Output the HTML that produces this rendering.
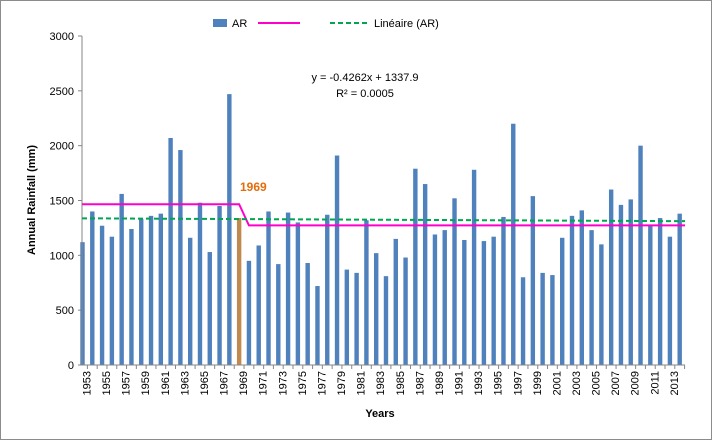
<!DOCTYPE html>
<html><head><meta charset="utf-8"><style>
body{margin:0;background:#fff}
svg{display:block;font-family:"Liberation Sans",sans-serif}
</style></head><body>
<svg id="c" width="712" height="440">
<rect x="0.5" y="0.5" width="711" height="439" fill="#fff" stroke="#8c8c8c"/>
<g id="g"></g>
</svg>
<script>
const years=[1953,1954,1955,1956,1957,1958,1959,1960,1961,1962,1963,1964,1965,1966,1967,1968,1969,1970,1971,1972,1973,1974,1975,1976,1977,1978,1979,1980,1981,1982,1983,1984,1985,1986,1987,1988,1989,1990,1991,1992,1993,1994,1995,1996,1997,1998,1999,2000,2001,2002,2003,2004,2005,2006,2007,2008,2009,2010,2011,2012,2013,2014];
const rainfall=[1120,1400,1270,1170,1560,1240,1330,1360,1380,2070,1960,1160,1480,1030,1450,2470,1340,950,1090,1400,920,1390,1300,930,720,1370,1910,870,840,1320,1020,810,1150,980,1790,1650,1190,1230,1520,1140,1780,1130,1170,1350,2200,800,1540,840,820,1160,1360,1410,1230,1100,1600,1460,1510,2000,1280,1340,1170,1380];
const yTicks=[0,500,1000,1500,2000,2500,3000];
const meanBefore=1466, meanAfter=1273, breakYear=1969;
const trendSlope=-0.4262, trendIntercept=1337.9;

const NS="http://www.w3.org/2000/svg", g=document.getElementById('g');
const X0=82,X1=685,Y0=365,Y1=36,C0=82.5,step=9.79;
const sx=i=>C0+step*i, sy=v=>Y0-(v/3000)*(Y0-Y1);
function mk(t,a,txt){const e=document.createElementNS(NS,t);for(const k in a)e.setAttribute(k,a[k]);if(txt!=null)e.textContent=txt;g.appendChild(e);return e;}

yTicks.forEach(v=>{
 const l=mk('line',{x1:X0-4,x2:X0,y1:sy(v),y2:sy(v),stroke:'#868686'});
 
 
 const t=mk('text',{x:X0-8,y:sy(v)+4,'text-anchor':'end','font-size':11},v);
 
 
});
years.forEach((yr,i)=>{
 const v=rainfall[i];
 const b=mk('rect',{x:sx(i)-2.2,y:sy(v),width:4.4,height:Y0-sy(v),fill:yr===breakYear?'#c0894f':'#4f81bd'});
 
 
 const tk=mk('line',{x1:sx(i)+step/2,x2:sx(i)+step/2,y1:Y0,y2:Y0+4,stroke:'#868686'});
 
 
 if(i%2===0){const cx=sx(i)+8,cy=Y0+6;
  const t=mk('text',{x:cx,y:cy,'text-anchor':'end','font-size':11,transform:`rotate(-90 ${cx} ${cy})`},yr);
  
  }
});
const ya=mk('line',{x1:X0,x2:X0,y1:Y1,y2:Y0,stroke:'#868686'});


const xa=mk('line',{x1:X0,x2:X1,y1:Y0,y2:Y0,stroke:'#868686'});



const bi=years.indexOf(breakYear);
const ml=mk('polyline',{points:`${X0},${sy(meanBefore)} ${sx(bi)},${sy(meanBefore)} ${sx(bi+1)},${sy(meanAfter)} ${X1},${sy(meanAfter)}`,fill:'none',stroke:'#ff00cc','stroke-width':2});


const tl=mk('line',{x1:X0,y1:sy(trendIntercept+trendSlope*1),x2:X1,y2:sy(trendIntercept+trendSlope*years.length),stroke:'#00a550','stroke-width':2,'stroke-dasharray':'5,3'});



const bl=mk('text',{x:240,y:191,'font-size':12,'font-weight':'bold',fill:'#e46c0a'},'1969');


const e1=mk('text',{x:365,y:81,'text-anchor':'middle','font-size':11},'y = -0.4262x + 1337.9');


const e2=mk('text',{x:365,y:97,'text-anchor':'middle','font-size':11},'R² = 0.0005');



const lr=mk('rect',{x:213,y:19,width:14,height:8,fill:'#4f81bd'});


const lt=mk('text',{x:232,y:27,'font-size':11},'AR');


const lm=mk('line',{x1:258,x2:300,y1:23,y2:23,stroke:'#ff00cc','stroke-width':2});


const lg=mk('line',{x1:330,x2:370,y1:23,y2:23,stroke:'#00a550','stroke-width':2,'stroke-dasharray':'5,3'});


const lgt=mk('text',{x:374,y:27,'font-size':11},'Linéaire (AR)');



const xt=mk('text',{x:380,y:417,'text-anchor':'middle','font-size':11,'font-weight':'bold'},'Years');


const yt=mk('text',{x:35,y:200,'text-anchor':'middle','font-size':11,'font-weight':'bold',transform:'rotate(-90 35 200)'},'Annual Rainfall  (mm)');


</script>
</body></html>
